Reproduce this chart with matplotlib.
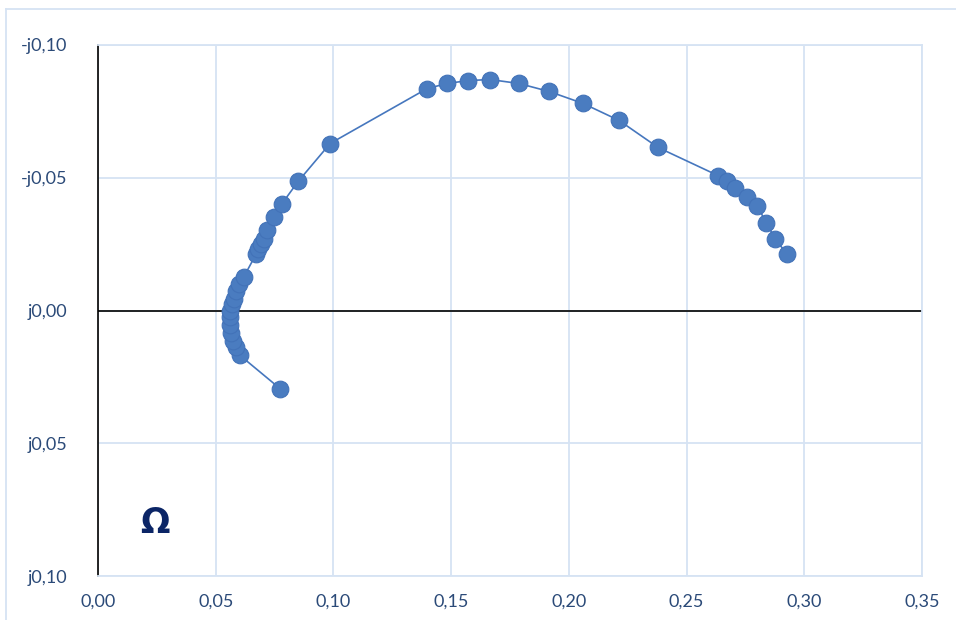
import matplotlib.pyplot as plt
from matplotlib.ticker import FuncFormatter, MultipleLocator
from matplotlib.lines import Line2D

# Impedansi: bagian real dan imajiner (nilai -Im ditampilkan ke atas)
re_z = [0.0773, 0.0603, 0.0586, 0.0573, 0.0565, 0.0561, 0.0561, 0.0561,
        0.0569, 0.0578, 0.0586, 0.0599, 0.0620, 0.0671, 0.0680, 0.0692,
        0.0705, 0.0718, 0.0748, 0.0782, 0.0850, 0.0986, 0.1398, 0.1483,
        0.1572, 0.1665, 0.1788, 0.1916, 0.2060, 0.2213, 0.2379, 0.2634,
        0.2672, 0.2706, 0.2757, 0.2800, 0.2838, 0.2876, 0.2927]
im_z = [-0.0294, -0.0169, -0.0139, -0.0113, -0.0083, -0.0056, -0.0026, 0.0000,
        0.0023, 0.0045, 0.0072, 0.0098, 0.0128, 0.0211, 0.0230, 0.0249,
        0.0271, 0.0305, 0.0354, 0.0403, 0.0486, 0.0629, 0.0836, 0.0855,
        0.0866, 0.0870, 0.0855, 0.0825, 0.0780, 0.0716, 0.0614, 0.0508,
        0.0486, 0.0463, 0.0429, 0.0395, 0.0331, 0.0271, 0.0211]

grid_col = '#D6E3F3'
text_col = '#2B4A78'
plt.rcParams['font.family'] = ['Lato', 'DejaVu Sans']

fig = plt.figure(figsize=(9.56, 6.2), dpi=100)
ax = fig.add_axes([98/956, 44/620, 824/956, 531/620])

ax.plot(re_z, im_z, color='#4677BE', linewidth=1.2, marker='o',
        markersize=12, markerfacecolor='#4A7CC0', markeredgecolor='#4272B8',
        markeredgewidth=0.8, zorder=3)

ax.set_xlim(0, 0.35)
ax.set_ylim(-0.10, 0.10)
ax.xaxis.set_major_locator(MultipleLocator(0.05))
ax.yaxis.set_major_locator(MultipleLocator(0.05))


def fmt_x(v, pos):
    return f'{v:.2f}'.replace('.', ',')


def fmt_y(v, pos):
    s = f'{abs(v):.2f}'.replace('.', ',')
    if v > 1e-9:
        return '-j' + s
    return 'j' + s


ax.xaxis.set_major_formatter(FuncFormatter(fmt_x))
ax.yaxis.set_major_formatter(FuncFormatter(fmt_y))
ax.tick_params(axis='both', length=0, labelsize=13, colors=text_col)
ax.tick_params(axis='x', pad=13)
ax.tick_params(axis='y', pad=22)

ax.grid(True, color=grid_col, linewidth=1.3)
ax.set_axisbelow(True)
for side in ['top', 'right', 'bottom']:
    ax.spines[side].set_color(grid_col)
    ax.spines[side].set_linewidth(1.3)
ax.spines['left'].set_color('black')
ax.spines['left'].set_linewidth(1.2)
ax.axhline(0, color='black', linewidth=1.2, zorder=2)

ax.text(0.069, 0.10, 'Ω', transform=ax.transAxes, fontsize=25,
        family='DejaVu Sans', fontweight='bold', color='#0B2566',
        ha='center', va='center')

# bingkai area chart
fig.add_artist(Line2D([6/956, 6/956], [0, 1 - 9/620], color=grid_col,
                      linewidth=1.3, transform=fig.transFigure))
fig.add_artist(Line2D([6/956, 1], [1 - 9/620, 1 - 9/620], color=grid_col,
                      linewidth=1.3, transform=fig.transFigure))

fig.savefig('out.png', dpi=100)
